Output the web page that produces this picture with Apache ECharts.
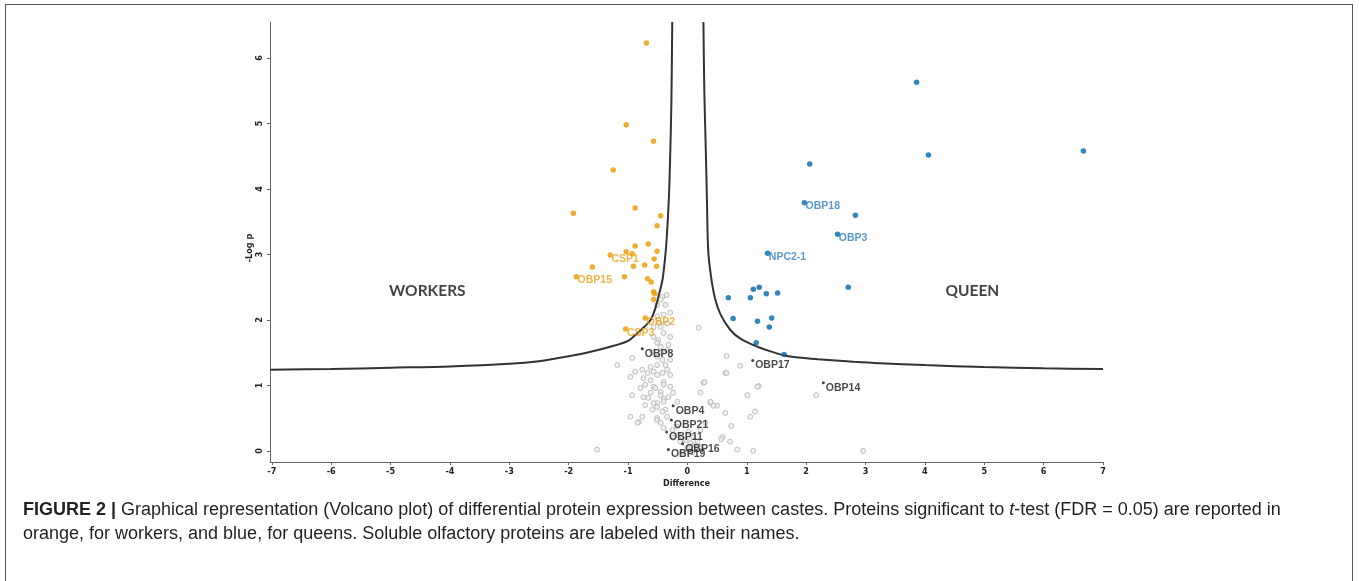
<!DOCTYPE html>
<html>
<head>
<meta charset="utf-8">
<script src="https://cdn.jsdelivr.net/npm/echarts@6/dist/echarts.min.js"></script>
<style>
  html, body { margin: 0; padding: 0; background: #fff; }
  #frame { position: absolute; left: 5px; top: 4px; width: 1348px; height: 600px; border: 1.5px solid #555; box-sizing: border-box; }
  #chart { position: absolute; left: 0; top: 0; width: 1359px; height: 581px; }
  #caption { position: absolute; left: 23px; top: 497px; width: 1320px; font: 18px 'Liberation Sans', Arial, sans-serif; line-height: 24px; color: #231f20; white-space: nowrap; }
</style>
</head>
<body>
<div id="frame"></div>
<div id="chart"></div>
<div id="caption"><b>FIGURE 2 |</b> Graphical representation (Volcano plot) of differential protein expression between castes. Proteins significant to <i>t</i>-test (FDR = 0.05) are reported in<br>orange, for workers, and blue, for queens. Soluble olfactory proteins are labeled with their names.</div>
<script>
// 轴刻度
const xTicks = [-7, -6, -5, -4, -3, -2, -1, 0, 1, 2, 3, 4, 5, 6, 7]
const yTicks = [0, 1, 2, 3, 4, 5, 6]

// 工蜂显著蛋白（橙色）[difference, -log p]
const workerPts = [
  [-0.69, 6.23], [-1.03, 4.98], [-0.57, 4.73], [-1.25, 4.29], [-1.92, 3.63],
  [-0.88, 3.71], [-0.45, 3.59], [-0.51, 3.44], [-0.88, 3.13], [-0.66, 3.16],
  [-0.51, 3.05], [-1.03, 3.04], [-0.93, 3.01], [-0.56, 2.93], [-0.91, 2.82],
  [-0.72, 2.84], [-0.52, 2.82], [-1.60, 2.81], [-1.06, 2.66], [-0.67, 2.63],
  [-0.61, 2.58], [-0.57, 2.43], [-0.55, 2.40], [-0.57, 2.31]
]
const workerSops = [
  ['CSP1', -1.30, 2.99], ['OBP15', -1.87, 2.66], ['OBP2', -0.71, 2.03], ['CSP3', -1.04, 1.86]
]

// 蜂王显著蛋白（蓝色）
const queenPts = [
  [3.86, 5.63], [4.06, 4.52], [6.67, 4.58], [2.06, 4.38], [2.83, 3.60],
  [2.71, 2.50], [1.11, 2.47], [1.21, 2.50], [0.69, 2.34], [1.06, 2.34],
  [1.33, 2.40], [1.52, 2.41], [0.77, 2.02], [1.18, 1.98], [1.42, 2.03],
  [1.38, 1.89], [1.16, 1.65], [1.63, 1.47]
]
const queenSops = [
  ['OBP18', 1.97, 3.79], ['OBP3', 2.53, 3.31], ['NPC2-1', 1.35, 3.02]
]

// 不显著的可溶性嗅觉蛋白（黑色）
const otherSops = [
  ['OBP8', -0.76, 1.56], ['OBP17', 1.10, 1.38], ['OBP14', 2.29, 1.04], ['OBP4', -0.24, 0.69],
  ['OBP21', -0.27, 0.47], ['OBP11', -0.35, 0.29], ['OBP16', -0.08, 0.11], ['OBP19', -0.32, 0.02]
]

// 其余蛋白（灰色）
const greyPts = [
  [-0.35, 2.38], [-0.42, 2.35], [-0.45, 2.31], [-0.37, 2.23], [-0.51, 2.23], [-0.29, 2.11],
  [-0.40, 2.08], [-0.51, 2.05], [-0.34, 1.95], [-0.47, 1.95], [-0.45, 1.89], [-0.57, 1.89],
  [-0.40, 1.80], [-0.29, 1.74], [-0.57, 1.74], [-0.49, 1.69], [-0.51, 1.65], [-0.32, 1.62],
  [-0.45, 1.59], [0.19, 1.88], [-0.34, 1.54], [-0.59, 1.51], [-0.45, 1.50], [-0.51, 1.44],
  [-0.93, 1.42], [-0.42, 1.39], [-0.29, 1.39], [-1.18, 1.31], [-0.51, 1.31], [-0.37, 1.31],
  [-0.62, 1.28], [-0.76, 1.24], [-0.34, 1.24], [-0.88, 1.21], [-0.57, 1.21], [-0.42, 1.19],
  [-0.67, 1.19], [-0.51, 1.16], [-0.29, 1.16], [-0.96, 1.13], [-0.74, 1.11], [-0.62, 1.08],
  [-0.40, 1.05], [-0.71, 1.01], [-0.40, 1.01], [-0.57, 0.98], [-0.29, 0.98], [-0.79, 0.96],
  [-0.54, 0.96], [-0.45, 0.90], [-0.62, 0.89], [-0.24, 0.89], [-0.93, 0.85], [-0.45, 0.85],
  [-0.32, 0.82], [-0.74, 0.82], [-0.66, 0.81], [-0.40, 0.79], [-0.17, 0.75], [-0.40, 0.75],
  [-0.51, 0.73], [-0.57, 0.73], [-0.71, 0.70], [-0.51, 0.67], [-0.59, 0.63], [-0.37, 0.63],
  [-0.42, 0.60], [-0.34, 0.52], [-0.76, 0.52], [-0.96, 0.52], [-0.51, 0.50], [-0.51, 0.47],
  [-0.82, 0.44], [-0.84, 0.43], [-0.45, 0.43], [-0.17, 0.37], [-0.40, 0.35], [-0.25, 0.32],
  [0.02, 0.29], [-0.15, 0.24], [0.10, 0.21], [-0.24, 0.20], [-0.07, 0.17], [-0.03, 0.17],
  [0.17, 0.14], [-0.12, 0.14], [0.05, 0.12], [0.13, 0.09], [0.05, 0.06], [0.22, 0.06],
  [0.00, 0.05], [0.08, -0.02], [-0.08, -0.02], [0.22, 0.32], [0.30, 0.43], [0.39, 0.73],
  [0.22, 0.89], [0.27, 1.04], [0.29, 1.05], [0.64, 1.19], [0.64, 0.58], [0.59, 0.21],
  [0.72, 0.14], [0.84, 0.02], [0.66, 1.45], [0.89, 1.30], [0.66, 1.19], [1.20, 0.99],
  [1.18, 0.98], [1.01, 0.85], [1.14, 0.60], [1.06, 0.52], [0.74, 0.38], [0.57, 0.18],
  [0.50, 0.69], [0.44, 0.69], [0.39, 0.75], [2.17, 0.85], [2.96, 0.00], [1.11, 0.00],
  [-1.52, 0.02]
]

// FDR 阈值曲线
const curveLeft = [
  [-7.03, 1.24], [-6, 1.25], [-5, 1.27], [-4, 1.29], [-3, 1.33], [-2.5, 1.37], [-2.1, 1.43],
  [-1.7, 1.50], [-1.3, 1.59], [-1.0, 1.68], [-0.84, 1.80], [-0.72, 1.90], [-0.62, 2.0],
  [-0.55, 2.15], [-0.49, 2.35], [-0.42, 2.61], [-0.37, 3.0], [-0.34, 3.37], [-0.31, 3.9],
  [-0.29, 4.5], [-0.27, 5.3], [-0.255, 6.55]
]
const curveRight = [
  [0.27, 6.55], [0.285, 5.5], [0.31, 4.6], [0.33, 3.8], [0.35, 3.07], [0.40, 2.65],
  [0.47, 2.31], [0.56, 2.08], [0.72, 1.85], [0.9, 1.71], [1.18, 1.59], [1.4, 1.52],
  [1.73, 1.44], [2.2, 1.40], [2.8, 1.36], [3.25, 1.34], [4, 1.31], [5, 1.28], [6, 1.26], [7, 1.25]
]

// 区域文字
const groupLabels = [['WORKERS', -4.38, 2.44], ['QUEEN', 4.80, 2.44]]

const axisFont = "'Liberation Sans Narrow', 'DejaVu Sans Condensed', 'Liberation Sans', sans-serif"
const labelFont = "'Liberation Sans', Arial, sans-serif"

function named(list) {
  return list.map((d) => ({ name: d[0], value: [d[1], d[2]] }))
}

function sopLabel(color) {
  return {
    show: true,
    formatter: '{b}',
    position: [4, 1],
    align: 'left',
    verticalAlign: 'top',
    color: color,
    fontFamily: labelFont,
    fontWeight: 'bold',
    fontSize: 10.5,
  }
}

const chart = echarts.init(document.getElementById('chart'))

const option = {
  animation: false,
  grid: { left: 270, right: 256, top: 22, bottom: 119 },
  xAxis: {
    type: 'value',
    min: -7.03,
    max: 7,
    name: 'Difference',
    nameLocation: 'middle',
    nameGap: 17,
    nameMoveOverlap: false,
    nameTextStyle: { color: '#222', fontFamily: axisFont, fontWeight: 'bold', fontSize: 9 },
    axisLine: { show: true, onZero: false, lineStyle: { color: '#666', width: 1 } },
    axisTick: { show: true, length: 3, customValues: xTicks, lineStyle: { color: '#666' } },
    axisLabel: { customValues: xTicks, color: '#222', fontFamily: axisFont, fontWeight: 'bold', fontSize: 9, margin: 5 },
    splitLine: { show: false },
  },
  yAxis: {
    type: 'value',
    min: -0.17,
    max: 6.55,
    name: '-Log p',
    nameLocation: 'middle',
    nameGap: 16,
    nameMoveOverlap: false,
    nameRotate: 90,
    nameTextStyle: { color: '#222', fontFamily: axisFont, fontWeight: 'bold', fontSize: 9, padding: [0, 12, 0, 0] },
    axisLine: { show: true, onZero: false, lineStyle: { color: '#666', width: 1 } },
    axisTick: { show: true, length: 3, customValues: yTicks, lineStyle: { color: '#666' } },
    axisLabel: { customValues: yTicks, rotate: 90, color: '#222', fontFamily: axisFont, fontWeight: 'bold', fontSize: 9, margin: 6 },
    splitLine: { show: false },
  },
  series: [
    {
      type: 'scatter',
      data: greyPts,
      symbolSize: 5,
      itemStyle: { color: '#ededed', borderColor: '#b0b0b0', borderWidth: 1 },
      z: 1,
    },
    {
      type: 'line',
      data: curveLeft,
      showSymbol: false,
      smooth: 0.3,
      lineStyle: { color: '#333', width: 2 },
      z: 2,
    },
    {
      type: 'line',
      data: curveRight,
      showSymbol: false,
      smooth: 0.3,
      lineStyle: { color: '#333', width: 2 },
      z: 2,
    },
    {
      type: 'scatter',
      data: workerPts,
      symbolSize: 5.5,
      itemStyle: { color: '#e99a00' },
      z: 3,
    },
    {
      type: 'scatter',
      data: named(workerSops),
      symbolSize: 5.5,
      itemStyle: { color: '#e99a00' },
      label: sopLabel('#eba21c'),
      z: 3,
    },
    {
      type: 'scatter',
      data: queenPts,
      symbolSize: 5.5,
      itemStyle: { color: '#0066ad' },
      z: 3,
    },
    {
      type: 'scatter',
      data: named(queenSops),
      symbolSize: 5.5,
      itemStyle: { color: '#0066ad' },
      label: sopLabel('#2f80c4'),
      z: 3,
    },
    {
      type: 'scatter',
      data: named(otherSops),
      symbolSize: 3,
      itemStyle: { color: '#111' },
      label: sopLabel('#1a1a1a'),
      z: 4,
    },
    {
      type: 'scatter',
      data: named(groupLabels),
      symbolSize: 0,
      silent: true,
      label: {
        show: true,
        formatter: '{b}',
        position: 'inside',
        color: '#111',
        fontFamily: "Lato, 'Open Sans', sans-serif",
        fontWeight: 'bold',
        fontSize: 15.5,
      },
      z: 5,
    },
  ],
}

chart.setOption(option)
</script>
</body>
</html>
